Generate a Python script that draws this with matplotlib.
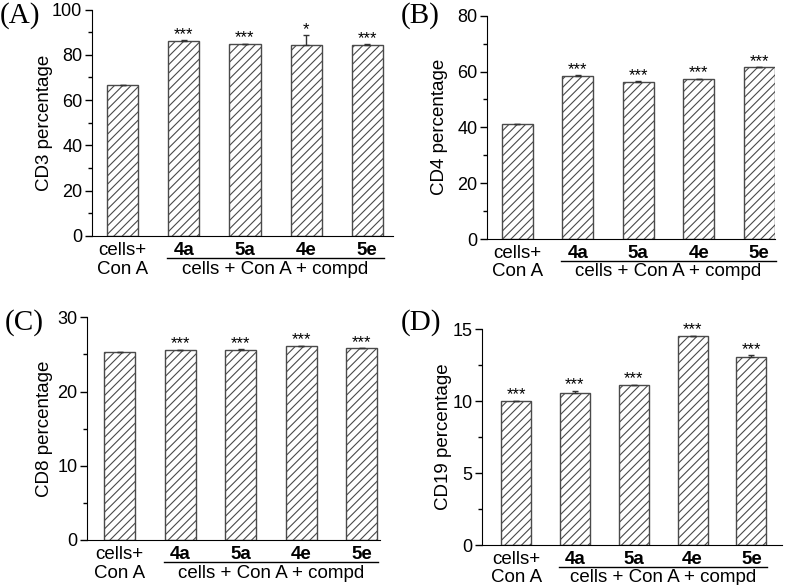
import numpy as np
import matplotlib
matplotlib.use('Agg')
import matplotlib.pyplot as plt
from matplotlib.ticker import MultipleLocator, AutoMinorLocator

# data
groups = ['cells+', '4a', '5a', '4e', '5e']

cd3 = [66.5, 86.1, 84.6, 84.3, 84.5]
cd3_err = [0.3, 0.3, 0.2, 4.4, 0.2]
cd3_stars = ['', '***', '***', '*', '***']

cd4 = [41.1, 58.5, 56.4, 57.4, 61.5]
cd4_err = [0.1, 0.2, 0.1, 0.1, 0.1]
cd4_stars = ['', '***', '***', '***', '***']

cd8 = [25.3, 25.6, 25.65, 26.1, 25.8]
cd8_err = [0.05, 0.05, 0.05, 0.05, 0.05]
cd8_stars = ['', '***', '***', '***', '***']

cd19 = [10.0, 10.6, 11.1, 14.5, 13.1]
cd19_err = [0.03, 0.12, 0.03, 0.06, 0.08]
cd19_stars = ['***', '***', '***', '***', '***']

plt.rcParams['font.family'] = ['Liberation Sans', 'DejaVu Sans']
plt.rcParams['hatch.linewidth'] = 0.8

W, H = 790, 585
fig = plt.figure(figsize=(W / 100, H / 100), dpi=100)


def panel(box, xlim, vals, errs, stars, ylabel, ymax, step, letter, letter_xy, label_off):
    left, right, top, bottom = box
    ax = fig.add_axes([left / W, 1 - bottom / H, (right - left) / W, (bottom - top) / H])
    x = np.arange(len(vals))
    ax.bar(x, vals, width=0.51, color='white', edgecolor='#4a4a4a',
           linewidth=1.0, hatch='////', zorder=2)
    ax.errorbar(x, vals, yerr=[np.zeros(len(errs)), errs], fmt='none',
                ecolor='#333333', elinewidth=1.0, capsize=2.2, capthick=1.0, zorder=3)
    for xi, v, e, s in zip(x, vals, errs, stars):
        if s:
            ax.annotate(s, (xi, v + e), xytext=(0, 1), textcoords='offset points',
                        ha='center', va='baseline', fontsize=12)
    ax.set_xlim(*xlim)
    ax.set_ylim(0, ymax)
    ax.yaxis.set_major_locator(MultipleLocator(step))
    ax.yaxis.set_minor_locator(AutoMinorLocator(2))
    ax.spines['top'].set_visible(False)
    ax.spines['right'].set_visible(False)
    ax.tick_params(axis='y', which='major', length=5, width=1, labelsize=13, pad=2)
    ax.tick_params(axis='y', which='minor', length=3, width=1)
    ax.tick_params(axis='x', length=0, labelsize=13.5, pad=4)
    ax.set_xticks(x)
    ax.set_xticklabels(groups)
    for lab in ax.get_xticklabels()[1:]:
        lab.set_fontweight('bold')
    ax.set_ylabel(ylabel, fontsize=13.5)
    ax.yaxis.set_label_coords(-label_off / (right - left), 0.5)

    hpx = bottom - top
    tr = ax.get_xaxis_transform()
    ax.text(0, -33 / hpx, 'Con A', transform=tr, ha='center', va='center', fontsize=13.5)
    ax.text(2.5, -33 / hpx, 'cells + Con A + compd', transform=tr,
            ha='center', va='center', fontsize=13.5)
    ax.plot([1 - 0.27, 4 + 0.27], [-22 / hpx, -22 / hpx], color='black',
            lw=1.0, transform=tr, clip_on=False)
    fig.text(letter_xy[0] / W, 1 - letter_xy[1] / H, '(' + letter + ')',
             family='Liberation Serif', fontsize=21, ha='left', va='center')
    return ax


panel((92, 393, 9.5, 236), (-0.5, 4.42), cd3, cd3_err, cd3_stars,
      'CD3 percentage', 100, 20, 'A', (0, 16), 39)
panel((487, 775, 15.7, 239), (-0.5, 4.26), cd4, cd4_err, cd4_stars,
      'CD4 percentage', 80, 20, 'B', (401, 16), 39)
panel((87, 380, 317.3, 540), (-0.54, 4.30), cd8, cd8_err, cd8_stars,
      'CD8 percentage', 30, 10, 'C', (5, 323), 34)
panel((482, 782, 329.3, 545), (-0.58, 4.52), cd19, cd19_err, cd19_stars,
      'CD19 percentage', 15, 5, 'D', (401, 323), 30)

fig.savefig('out.png', dpi=100)
